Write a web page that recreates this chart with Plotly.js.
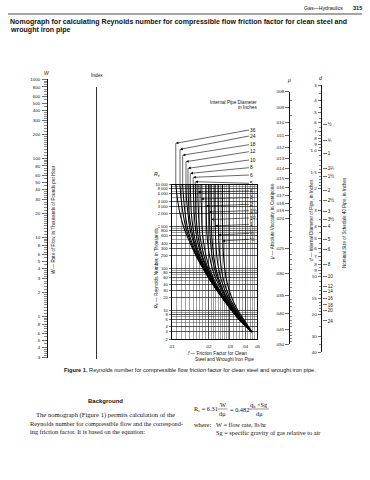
<!DOCTYPE html>
<html>
<head>
<meta charset="utf-8">
<script src="https://cdn.plot.ly/plotly-3.0.1.min.js"></script>
<style>
html,body{margin:0;padding:0;background:#fff;}
#chart{width:370px;height:480px;}
</style>
</head>
<body>
<div id="chart"></div>
<script>
// ------------------------- DATA -------------------------
const wTicks  = [1000,800,600,500,400,300,200,100,80,60,50,40,30,20,10,8,6,5,4,3,2,1,0.8,0.6,0.5,0.4,0.3];
const wLabels = ['1000','800','600','500','400','300','200','100','80','60','50','40','30','20','10','8','6','5','4','3','2','1','.8','.6','.5','.4','.3'];

const muTicks  = [0.008,0.009,0.010,0.011,0.012,0.013,0.014,0.015,0.016,0.017,0.018,0.019,0.020,0.025,0.030,0.035,0.040,0.045,0.050];
const muLabels = ['.008','.009','.010','.011','.012','.013','.014','.015','.016','.017','.018','.019','.020','.025','.030','.035','.040','.045','.050'];

const dTicks  = [0.3,0.4,0.5,0.6,0.7,0.8,0.9,1,1.5,2,3,4,5,6,7,8,9,10,15,20,30,40];
const dLabels = ['.3','.4','.5','.6','.7','.8','.9','1.0','1.5','2','3','4','5','6','7','8','9','10','15','20','30','40'];

const nominalID     = [0.622,0.824,1.049,1.380,1.610,2.067,2.469,3.068,3.548,4.026,5.047,6.065,7.981,10.02,11.938,13.124,15.0,16.876,18.812,22.624];
const nominalLabels = ['½','¾','1','1¼','1½','2','2½','3','3½','4','5','6','8','10','12','14','16','18','20','24'];

const reTicks  = [10000,8000,6000,4000,3000,2000,1000,800,600,400,300,200,100,80,60,40,30,20,10,8,6,4,3,2];
const reLabels = ['10 000','8 000','6 000','4 000','3 000','2 000','1 000','800','600','400','300','200','100','80','60','40','30','20','10','8','6','4','3','2'];

const fTicks  = [0.01,0.02,0.03,0.04,0.05];
const fLabels = ['.01','.02','.03','.04','.05'];

// Reynolds number (thousands) at which each pipe curve is read
const reK = [3,5,10,20,50,100,200,500,1000,2000,5000,10000];
// friction factor
const f36   = [.0455,.0378,.0309,.0258,.0208,.0180,.0158,.0137,.0125,.0117,.0111,.0108];
const f24   = [.0455,.0378,.0310,.0259,.0209,.0182,.0160,.0140,.0130,.0124,.0119,.0117];
const f18   = [.0455,.0378,.0310,.0259,.0210,.0183,.0162,.0143,.0134,.0129,.0125,.0123];
const f12   = [.0455,.0379,.0311,.0260,.0212,.0185,.0165,.0148,.0140,.0136,.0132,.0131];
const f10   = [.0455,.0379,.0311,.0261,.0212,.0186,.0167,.0151,.0144,.0139,.0137,.0136];
const f8    = [.0455,.0379,.0311,.0261,.0214,.0189,.0170,.0155,.0149,.0145,.0143,.0142];
const f6    = [.0455,.0380,.0312,.0263,.0216,.0192,.0175,.0161,.0156,.0153,.0151,.0150];
const f5    = [.0455,.0380,.0313,.0264,.0218,.0195,.0178,.0166,.0161,.0158,.0157,.0156];
const f4    = [.0455,.0381,.0314,.0266,.0221,.0198,.0184,.0172,.0168,.0166,.0164,.0164];
const f3    = [.0455,.0382,.0316,.0268,.0225,.0204,.0191,.0181,.0177,.0176,.0174,.0174];
const f2    = [.0455,.0385,.0320,.0274,.0234,.0215,.0204,.0196,.0193,.0192,.0191,.0191];
const f1_5  = [.0455,.0387,.0323,.0279,.0241,.0224,.0214,.0207,.0205,.0203,.0202,.0202];
const f1_25 = [.0455,.0389,.0326,.0282,.0246,.0230,.0221,.0214,.0212,.0211,.0210,.0210];
const f1_0  = [.0455,.0393,.0332,.0290,.0256,.0242,.0234,.0229,.0227,.0226,.0226,.0226];
const f0_75 = [.0455,.0398,.0338,.0298,.0267,.0255,.0248,.0243,.0242,.0241,.0240,.0240];
const f0_5  = [.0455,.0405,.0347,.0310,.0282,.0272,.0266,.0262,.0261,.0260,.0260,.0260];
const pipeLabels = ['36','24','18','12','10','8','6','5','4','3','2','1½','1¼','1','¾','½'];
// upper end (Re, thousands, on the extended scale) of the leader lines of the large sizes
const leaderTopRe = [98000,70000,51000,35500,24700,18700,15000,11800];
// Re (thousands) where the arrows of the small sizes touch their curves
const arrowRe = [6700,4550,3090,2220,1470,1030,626,450];

// ------------------------- LAYOUT GEOMETRY (px) -------------------------
const lg = Math.log10;
const PW = 370, PH = 480;
const X = p => p / PW;
const Y = p => 1 - p / PH;
const GX0 = 171.7, GX1 = 257, GY0 = 184.7, GY1 = 339.3, GYEXT = 138;
const W_X = 47.5, W_Y0 = 79.3, W_Y1 = 357.7;
const IDX_X = 96.7, IDX_Y0 = 86.7, IDX_Y1 = 359.3;
const MU_X = 289.5, MU_Y0 = 91.7, MU_Y1 = 344.3;
const D_X = 322, D_Y0 = 85, D_Y1 = 352;
const LABEL_X = 249;
const labelPy = [130,136,144.7,151.7,160,167.7,175,183.3,191,197.7,204.3,210.7,218,224.3,233.3,239.3];

const fLo = fTicks[0], fHi = fTicks[fTicks.length-1];
const reLo = reTicks[reTicks.length-1], reHi = reTicks[0];
const decPx = (GY1 - GY0) / (lg(reHi) - lg(reLo));
const reExtHi = lg(reLo) + (GY1 - GYEXT) / decPx;
const pxToLgF = px => lg(fLo) + (px - GX0) / (GX1 - GX0) * (lg(fHi) - lg(fLo));
const pyToLgRe = py => lg(reLo) + (GY1 - py) / decPx;

const SANS = 'Liberation Sans, Arial, sans-serif';
const SERIF = 'Liberation Serif, Times New Roman, serif';
const INK = '#111';
const tf = {family: SANS, size: 4.4, color: INK};

function minorVals(lo, hi, mant, exclude) {
  const out = [];
  for (let e = Math.floor(lg(lo)) - 1; e <= Math.ceil(lg(hi)); e++) {
    for (const m of mant) {
      const v = parseFloat((m * Math.pow(10, e)).toPrecision(10));
      if (v > lo * 1.0001 && v < hi * 0.9999 && !exclude.some(t => Math.abs(t - v) / v < 1e-6)) out.push(v);
    }
  }
  return out;
}
const wMinor = minorVals(0.3, 1000, [1.1,1.2,1.3,1.4,1.5,1.6,1.7,1.8,1.9,2.2,2.4,2.6,2.8,3.2,3.4,3.6,3.8,4.5,5.5,6.5,7,7.5,8.5,9,9.5], wTicks);
const dMinor = minorVals(0.3, 40, [1.1,1.2,1.3,1.4,1.6,1.7,1.8,1.9,2.5,3.5,4.5,5.5,6.5,7.5,8.5,9.5], dTicks);
const reMinor = minorVals(reLo, reHi, [5,7,9], reTicks);
const muMinor = [];
for (let k = 80; k < 500; k += (k < 200 ? 5 : 10)) {
  const v = k / 10000;
  if (!muTicks.some(t => Math.abs(t - v) < 1e-7)) muMinor.push(v);
}
const fMinor = [];
for (let k = 11; k < 50; k += (k < 30 ? 1 : 2)) {
  const v = k / 1000;
  if (!fTicks.some(t => Math.abs(t - v) < 1e-7)) fMinor.push(v);
}

// ------------------------- TRACES -------------------------
const pipeF = [f36,f24,f18,f12,f10,f8,f6,f5,f4,f3,f2,f1_5,f1_25,f1_0,f0_75,f0_5];
const traces = [];
const ghost = (xa, ya, yv) => ({x:[0.5,0.5], y:yv, xaxis:xa, yaxis:ya, mode:'markers',
  marker:{opacity:0, size:1}, hoverinfo:'skip', showlegend:false});
traces.push({x:[fLo,fHi], y:[reLo,reHi], xaxis:'x', yaxis:'y', mode:'markers', marker:{opacity:0,size:1}, hoverinfo:'skip', showlegend:false});
pipeF.forEach((fa, i) => {
  traces.push({x: fa, y: reK, xaxis:'x2', yaxis:'y2', mode:'lines',
    line:{color:'#000', width:1.05, shape:'spline', smoothing:0.6}, hoverinfo:'skip', showlegend:false});
  if (i < leaderTopRe.length) {
    const ft = fa[fa.length-1];
    traces.push({x:[ft, ft], y:[reK[reK.length-1], leaderTopRe[i]], xaxis:'x2', yaxis:'y2', mode:'lines',
      line:{color:'#000', width:0.6}, hoverinfo:'skip', showlegend:false});
  }
});
traces.push(ghost('x3','y3',[0.3,1000]));
traces.push(ghost('x4','y4',[0,1]));
traces.push(ghost('x5','y5',[0.008,0.05]));
traces.push(ghost('x6','y6',[0.3,40]));
traces.push(ghost('x6','y7',[0.3,40]));

// ------------------------- ANNOTATIONS -------------------------
const ann = [];
function txt(text, px, py, size, opt) {
  ann.push(Object.assign({xref:'paper', yref:'paper', x:X(px), y:Y(py), text:text, showarrow:false,
    xanchor:'center', yanchor:'middle', font:{family:SANS, size:size, color:INK}}, opt || {}));
}
pipeLabels.forEach((lab, i) => {
  const fa = pipeF[i];
  const ft = fa[fa.length-1];
  const tipRe = i < leaderTopRe.length ? leaderTopRe[i] : arrowRe[i - leaderTopRe.length];
  ann.push({xref:'x2', yref:'y2', x:lg(ft), y:lg(tipRe), axref:'x2', ayref:'y2',
    ax:pxToLgF(LABEL_X), ay:pyToLgRe(labelPy[i]), text:lab, showarrow:true,
    arrowhead:2, arrowsize:0.9, arrowwidth:0.6, arrowcolor:'#000', standoff:0, startstandoff:0,
    xanchor:'left', yanchor:'middle', borderpad:0, font:{family:SANS, size:4.8, color:'#000'}});
});

// page header & title
txt('Gas—Hydraulics', 345, 8.5, 5.2, {xanchor:'right'});
txt('<b>315</b>', 351, 8.5, 5.6, {xanchor:'left'});
txt('<b>Nomograph for calculating Reynolds number for compressible flow friction factor for clean steel and</b>', 8, 22, 7.05, {xanchor:'left'});
txt('<b>wrought iron pipe</b>', 8, 30, 7.05, {xanchor:'left'});
// scale names
txt('<i>W</i>', 46.5, 73.5, 5);
txt('Index', 96.7, 75, 4.8);
txt('<i>μ</i>', 289, 80, 5.2);
txt('<i>d</i>', 320.5, 78.3, 5.2);
txt('<i>R<sub>e</sub></i>', 157, 174, 5.2);
txt('<i>W</i> — Rate of Flow, in Thousands of Pounds per Hour', 54, 220, 4.6, {textangle:-90});
txt('<i>R<sub>e</sub></i> — Reynolds Number, in Thousands', 156.5, 268, 4.7, {textangle:-90});
txt('<i>μ</i> — Absolute Viscosity, in Centipoise', 272, 222, 4.6, {textangle:-90});
txt('<i>d</i> — Internal Diameter of Pipe, in Inches', 312, 220, 4.6, {textangle:-90});
txt('Nominal Size of Schedule 40 Pipe, in Inches', 344, 223, 4.6, {textangle:-90});
txt('Internal Pipe Diameter', 259, 102, 4.7, {xanchor:'right'});
txt('in Inches', 259, 107.5, 4.7, {xanchor:'right'});
txt('<i>f</i> — Friction Factor for Clean', 217, 353.5, 4.7);
txt('Steel and Wrought Iron Pipe', 224, 359.5, 4.7);
// caption
txt('<b>Figure 1.</b> Reynolds number for compressible flow friction factor for clean steel and wrought iron pipe.', 62, 370, 5.65, {xanchor:'left'});
// body text
const bf = {family:SERIF, size:6.3, color:INK};
const rf = {family:SERIF, size:6.3, color:INK};
txt('<b>Background</b>', 105.5, 401, 6.0);
txt('The nomograph (Figure 1) permits calculation of the', 34, 415, 6.3, {xanchor:'left', font:{family:SERIF, size:6.6, color:INK}});
txt('Reynolds number for compressible flow and the correspond-', 28, 423, 6.3, {xanchor:'left', font:bf});
txt('ing friction factor. It is based on the equation:', 28, 431, 6.3, {xanchor:'left', font:bf});
txt('R<sub>e</sub> = 6.31', 192, 409, 6.3, {xanchor:'left', font:rf});
txt('W', 222.5, 404.5, 6.3, {font:rf});
txt('dμ', 222.5, 413.5, 6.3, {font:rf});
txt('= 0.482', 228, 409, 6.3, {xanchor:'left', font:rf});
txt('q<sub>h</sub> ×Sg', 259, 404.5, 6.3, {font:rf});
txt('dμ', 259, 413.5, 6.3, {font:rf});
txt('where:', 192, 424, 6.3, {xanchor:'left', font:rf});
txt('W = flow rate, lb/hr', 213.5, 424, 6.3, {xanchor:'left', font:rf});
txt('Sg = specific gravity of gas relative to air', 213.5, 432, 6.3, {xanchor:'left', font:rf});

const shapes = [
  {type:'line', xref:'paper', yref:'paper', x0:X(8), x1:X(362), y0:Y(14), y1:Y(14), line:{color:'#333', width:0.9}},
  {type:'line', xref:'paper', yref:'paper', x0:X(217.5), x1:X(227.5), y0:Y(409), y1:Y(409), line:{color:INK, width:0.45}},
  {type:'line', xref:'paper', yref:'paper', x0:X(249), x1:X(269), y0:Y(409), y1:Y(409), line:{color:INK, width:0.45}}
];

// ------------------------- AXES -------------------------
const narrowX = px => ({domain:[X(px), X(px) + 0.0006], range:[0,1], visible:false, fixedrange:true});
const scaleY = (o) => Object.assign({showline:true, linecolor:INK, linewidth:1, showgrid:false, zeroline:false,
  tickmode:'array', ticks:'outside', tickcolor:INK, tickwidth:0.6, tickfont:tf, fixedrange:true}, o);

const layout = {
  width: PW, height: PH, autosize:false,
  margin:{l:0, r:0, t:0, b:0, pad:0},
  paper_bgcolor:'#fff', plot_bgcolor:'rgba(0,0,0,0)',
  showlegend:false, hovermode:false,
  xaxis:{domain:[X(GX0), X(GX1)], type:'log', range:[lg(fLo), lg(fHi)], anchor:'y',
    tickmode:'array', tickvals:fTicks, ticktext:fLabels, ticks:'outside', ticklen:2, tickcolor:'rgba(0,0,0,0)',
    ticklabelstandoff:0, tickfont:tf,
    showgrid:true, gridcolor:'#111', gridwidth:0.7, zeroline:false,
    showline:true, mirror:true, linecolor:'#000', linewidth:1,
    minor:{tickmode:'array', tickvals:fMinor, showgrid:true, gridcolor:'#333', gridwidth:0.45, ticks:''}},
  yaxis:{domain:[Y(GY1), Y(GY0)], type:'log', range:[lg(reLo), lg(reHi)], anchor:'x',
    tickmode:'array', tickvals:reTicks, ticktext:reLabels, ticks:'outside', ticklen:2, tickcolor:INK, tickwidth:0.6,
    ticklabelstandoff:0, tickfont:{family:SANS, size:4.1, color:INK},
    showgrid:true, gridcolor:'#111', gridwidth:0.7, zeroline:false,
    showline:true, mirror:true, linecolor:'#000', linewidth:1,
    minor:{tickmode:'array', tickvals:reMinor, showgrid:true, gridcolor:'#333', gridwidth:0.45, ticks:''}},
  xaxis2:{domain:[X(GX0), X(GX1)], type:'log', range:[lg(fLo), lg(fHi)], anchor:'y2', visible:false},
  yaxis2:{domain:[Y(GY1), Y(GYEXT)], type:'log', range:[lg(reLo), reExtHi], anchor:'x2', visible:false},
  xaxis3: narrowX(W_X),
  yaxis3: scaleY({anchor:'x3', side:'left', domain:[Y(W_Y1), Y(W_Y0)], type:'log', range:[lg(0.3), lg(1000)],
    tickvals:wTicks, ticktext:wLabels, ticklen:4.5, ticklabelstandoff:1,
    minor:{tickmode:'array', tickvals:wMinor, ticks:'outside', ticklen:2.2, tickwidth:0.5, tickcolor:INK, showgrid:false}}),
  xaxis4: narrowX(IDX_X),
  yaxis4: {anchor:'x4', domain:[Y(IDX_Y1), Y(IDX_Y0)], range:[0,1], showline:true, linecolor:'#333', linewidth:1.1,
    showgrid:false, zeroline:false, ticks:'', showticklabels:false, fixedrange:true},
  xaxis5: narrowX(MU_X),
  yaxis5: scaleY({anchor:'x5', side:'left', domain:[Y(MU_Y1), Y(MU_Y0)], type:'log', range:[lg(0.05), lg(0.008)],
    tickvals:muTicks, ticktext:muLabels, ticklen:3.5, ticklabelstandoff:0.5,
    minor:{tickmode:'array', tickvals:muMinor, ticks:'inside', ticklen:2, tickwidth:0.5, tickcolor:INK, showgrid:false}}),
  xaxis6: narrowX(D_X),
  yaxis6: scaleY({anchor:'x6', side:'left', domain:[Y(D_Y1), Y(D_Y0)], type:'log', range:[lg(40), lg(0.3)],
    tickvals:dTicks, ticktext:dLabels, ticklen:3.5, ticklabelstandoff:0.5,
    minor:{tickmode:'array', tickvals:dMinor, ticks:'outside', ticklen:2, tickwidth:0.5, tickcolor:INK, showgrid:false}}),
  yaxis7: scaleY({anchor:'x6', overlaying:'y6', side:'right', type:'log', range:[lg(40), lg(0.3)],
    tickvals:nominalID, ticktext:nominalLabels, ticklen:3.5, ticklabelstandoff:0.5, showline:false,
    tickfont:{family:SANS, size:4.6, color:INK}}),
  annotations: ann,
  shapes: shapes
};

Plotly.newPlot('chart', traces, layout, {staticPlot:true, displayModeBar:false});
</script>
</body>
</html>
